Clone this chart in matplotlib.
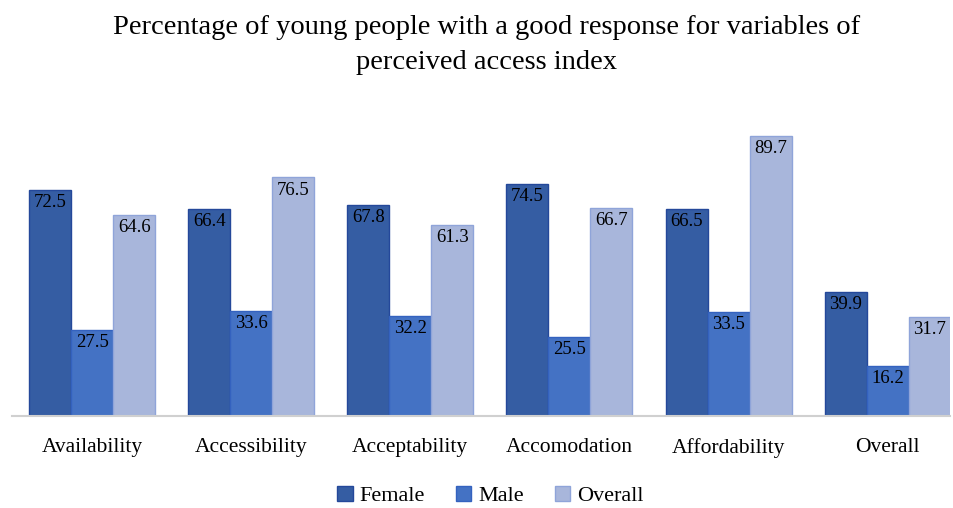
import numpy as np
import matplotlib
matplotlib.use('Agg')
import matplotlib.pyplot as plt

# --- Data ---
categories = ['Availability', 'Accessibility', 'Acceptability', 'Accomodation', 'Affordability', 'Overall']
female = [72.5, 66.4, 67.8, 74.5, 66.5, 39.9]
male = [27.5, 33.6, 32.2, 25.5, 33.5, 16.2]
overall = [64.6, 76.5, 61.3, 66.7, 89.7, 31.7]
series_names = ['Female', 'Male', 'Overall']

plt.rcParams['font.family'] = ['Liberation Serif', 'DejaVu Serif']

fills = ['#355DA3', '#4472C4', '#A8B6DB']
edges = ['#24489A', '#3462BF', '#8FA4D9']

fig = plt.figure(figsize=(9.54, 5.08), dpi=100)
ax = fig.add_axes([0.0126, 0.181, 0.983, 0.614])

x = np.arange(len(categories))
width = 0.264
for i, (vals, name) in enumerate(zip([female, male, overall], series_names)):
    pos = x + (i - 1) * width
    bars = ax.bar(pos, vals, width, color=fills[i], edgecolor=edges[i], linewidth=1, label=name)
    for b, v in zip(bars, vals):
        ax.annotate(f'{v:.1f}', (b.get_x() + b.get_width() / 2, v), xytext=(0, -3),
                    textcoords='offset points', ha='center', va='top', fontsize=13.5, color='black')

ax.set_xlim(-0.503, 5.39)
ax.set_ylim(0, 100)
ax.set_yticks([])
ax.set_xticks(x)
ax.set_xticklabels(categories, fontsize=15.5)
ax.tick_params(axis='x', length=0, pad=16)
for s in ['top', 'right', 'left']:
    ax.spines[s].set_visible(False)
ax.spines['bottom'].set_color('#D0D0D0')
ax.spines['bottom'].set_linewidth(1.5)

fig.text(0.51, 0.97, 'Percentage of young people with a good response for variables of\nperceived access index',
         ha='center', va='top', fontsize=20.5, linespacing=1.5)

fig.legend(loc='center', bbox_to_anchor=(0.514, 0.024), ncol=3, frameon=False, fontsize=16,
           handlelength=0.7, handleheight=0.7, handletextpad=0.3, columnspacing=1.4)

fig.savefig('out.png', dpi=100)
